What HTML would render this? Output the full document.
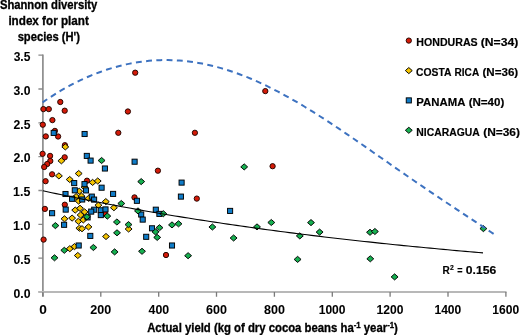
<!DOCTYPE html>
<html><head><meta charset="utf-8"><style>
html,body{margin:0;padding:0;background:#fff;}
body{width:520px;height:335px;overflow:hidden;}
svg{display:block;will-change:transform;}
</style></head><body>
<svg width="520" height="335" viewBox="0 0 520 335">
<rect width="520" height="335" fill="#fff"/>
<path d="M38.4 291.9H42.9M38.4 258.1H42.9M38.4 224.3H42.9M38.4 190.5H42.9M38.4 156.6H42.9M38.4 122.8H42.9M38.4 89.0H42.9M38.4 55.2H42.9" stroke="#8a8a8a" stroke-width="1.3" fill="none"/>
<path d="M42.9 54.6V296.4" stroke="#868686" stroke-width="1.6" fill="none"/>
<path d="M38.4 292.0H506.5" stroke="#b8b8b8" stroke-width="2.0" fill="none"/>
<path d="M42.9 291.9V296.7M100.8 291.9V296.7M158.7 291.9V296.7M216.5 291.9V296.7M274.4 291.9V296.7M332.3 291.9V296.7M390.1 291.9V296.7M448.0 291.9V296.7M505.9 291.9V296.7" stroke="#7a7a7a" stroke-width="1.3" fill="none"/>
<circle cx="135.2" cy="72.7" r="2.65" fill="#d41a08" stroke="#220500" stroke-width="0.95"/>
<circle cx="265.3" cy="91.1" r="2.65" fill="#d41a08" stroke="#220500" stroke-width="0.95"/>
<circle cx="60.3" cy="102.0" r="2.65" fill="#d41a08" stroke="#220500" stroke-width="0.95"/>
<circle cx="43.4" cy="109.1" r="2.65" fill="#d41a08" stroke="#220500" stroke-width="0.95"/>
<circle cx="48.8" cy="109.1" r="2.65" fill="#d41a08" stroke="#220500" stroke-width="0.95"/>
<circle cx="64.7" cy="110.7" r="2.65" fill="#d41a08" stroke="#220500" stroke-width="0.95"/>
<circle cx="127.9" cy="111.5" r="2.65" fill="#d41a08" stroke="#220500" stroke-width="0.95"/>
<circle cx="52.4" cy="120.1" r="2.65" fill="#d41a08" stroke="#220500" stroke-width="0.95"/>
<circle cx="42.8" cy="124.7" r="2.65" fill="#d41a08" stroke="#220500" stroke-width="0.95"/>
<circle cx="54.9" cy="130.9" r="2.65" fill="#d41a08" stroke="#220500" stroke-width="0.95"/>
<circle cx="45.8" cy="136.4" r="2.65" fill="#d41a08" stroke="#220500" stroke-width="0.95"/>
<circle cx="58.1" cy="136.5" r="2.65" fill="#d41a08" stroke="#220500" stroke-width="0.95"/>
<circle cx="118.3" cy="132.8" r="2.65" fill="#d41a08" stroke="#220500" stroke-width="0.95"/>
<circle cx="194.9" cy="132.8" r="2.65" fill="#d41a08" stroke="#220500" stroke-width="0.95"/>
<circle cx="64.9" cy="145.2" r="2.65" fill="#d41a08" stroke="#220500" stroke-width="0.95"/>
<circle cx="42.6" cy="153.8" r="2.65" fill="#d41a08" stroke="#220500" stroke-width="0.95"/>
<circle cx="50.1" cy="155.9" r="2.65" fill="#d41a08" stroke="#220500" stroke-width="0.95"/>
<circle cx="64.7" cy="157.3" r="2.65" fill="#d41a08" stroke="#220500" stroke-width="0.95"/>
<circle cx="50.3" cy="161.0" r="2.65" fill="#d41a08" stroke="#220500" stroke-width="0.95"/>
<circle cx="47.2" cy="164.0" r="2.65" fill="#d41a08" stroke="#220500" stroke-width="0.95"/>
<circle cx="44.2" cy="167.0" r="2.65" fill="#d41a08" stroke="#220500" stroke-width="0.95"/>
<circle cx="52.1" cy="174.3" r="2.65" fill="#d41a08" stroke="#220500" stroke-width="0.95"/>
<circle cx="45.6" cy="181.2" r="2.65" fill="#d41a08" stroke="#220500" stroke-width="0.95"/>
<circle cx="87.0" cy="180.7" r="2.65" fill="#d41a08" stroke="#220500" stroke-width="0.95"/>
<circle cx="157.9" cy="170.7" r="2.65" fill="#d41a08" stroke="#220500" stroke-width="0.95"/>
<circle cx="272.6" cy="166.2" r="2.65" fill="#d41a08" stroke="#220500" stroke-width="0.95"/>
<circle cx="196.8" cy="198.6" r="2.65" fill="#d41a08" stroke="#220500" stroke-width="0.95"/>
<circle cx="134.5" cy="197.4" r="2.65" fill="#d41a08" stroke="#220500" stroke-width="0.95"/>
<circle cx="104.9" cy="213.7" r="2.65" fill="#d41a08" stroke="#220500" stroke-width="0.95"/>
<circle cx="64.8" cy="204.7" r="2.65" fill="#d41a08" stroke="#220500" stroke-width="0.95"/>
<circle cx="43.6" cy="239.6" r="2.65" fill="#d41a08" stroke="#220500" stroke-width="0.95"/>
<circle cx="44.9" cy="208.9" r="2.65" fill="#d41a08" stroke="#220500" stroke-width="0.95"/>
<circle cx="166.0" cy="255.0" r="2.65" fill="#d41a08" stroke="#220500" stroke-width="0.95"/>
<path d="M65.30 143.85L68.75 146.90L65.30 149.95L61.85 146.90Z" fill="#f5c400" stroke="#000" stroke-width="0.95"/>
<path d="M61.40 157.75L64.85 160.80L61.40 163.85L57.95 160.80Z" fill="#f5c400" stroke="#000" stroke-width="0.95"/>
<path d="M78.70 170.45L82.15 173.50L78.70 176.55L75.25 173.50Z" fill="#f5c400" stroke="#000" stroke-width="0.95"/>
<path d="M58.90 172.85L62.35 175.90L58.90 178.95L55.45 175.90Z" fill="#f5c400" stroke="#000" stroke-width="0.95"/>
<path d="M69.70 176.45L73.15 179.50L69.70 182.55L66.25 179.50Z" fill="#f5c400" stroke="#000" stroke-width="0.95"/>
<path d="M92.60 179.35L96.05 182.40L92.60 185.45L89.15 182.40Z" fill="#f5c400" stroke="#000" stroke-width="0.95"/>
<path d="M97.70 177.95L101.15 181.00L97.70 184.05L94.25 181.00Z" fill="#f5c400" stroke="#000" stroke-width="0.95"/>
<path d="M84.60 184.15L88.05 187.20L84.60 190.25L81.15 187.20Z" fill="#f5c400" stroke="#000" stroke-width="0.95"/>
<path d="M79.20 188.15L82.65 191.20L79.20 194.25L75.75 191.20Z" fill="#f5c400" stroke="#000" stroke-width="0.95"/>
<path d="M76.10 193.55L79.55 196.60L76.10 199.65L72.65 196.60Z" fill="#f5c400" stroke="#000" stroke-width="0.95"/>
<path d="M81.50 193.05L84.95 196.10L81.50 199.15L78.05 196.10Z" fill="#f5c400" stroke="#000" stroke-width="0.95"/>
<path d="M78.60 198.05L82.05 201.10L78.60 204.15L75.15 201.10Z" fill="#f5c400" stroke="#000" stroke-width="0.95"/>
<path d="M88.60 195.35L92.05 198.40L88.60 201.45L85.15 198.40Z" fill="#f5c400" stroke="#000" stroke-width="0.95"/>
<path d="M98.40 202.15L101.85 205.20L98.40 208.25L94.95 205.20Z" fill="#f5c400" stroke="#000" stroke-width="0.95"/>
<path d="M105.80 198.55L109.25 201.60L105.80 204.65L102.35 201.60Z" fill="#f5c400" stroke="#000" stroke-width="0.95"/>
<path d="M113.90 204.65L117.35 207.70L113.90 210.75L110.45 207.70Z" fill="#f5c400" stroke="#000" stroke-width="0.95"/>
<path d="M75.20 207.05L78.65 210.10L75.20 213.15L71.75 210.10Z" fill="#f5c400" stroke="#000" stroke-width="0.95"/>
<path d="M80.00 205.25L83.45 208.30L80.00 211.35L76.55 208.30Z" fill="#f5c400" stroke="#000" stroke-width="0.95"/>
<path d="M84.60 208.85L88.05 211.90L84.60 214.95L81.15 211.90Z" fill="#f5c400" stroke="#000" stroke-width="0.95"/>
<path d="M80.60 211.95L84.05 215.00L80.60 218.05L77.15 215.00Z" fill="#f5c400" stroke="#000" stroke-width="0.95"/>
<path d="M64.50 215.75L67.95 218.80L64.50 221.85L61.05 218.80Z" fill="#f5c400" stroke="#000" stroke-width="0.95"/>
<path d="M72.10 215.05L75.55 218.10L72.10 221.15L68.65 218.10Z" fill="#f5c400" stroke="#000" stroke-width="0.95"/>
<path d="M78.40 218.25L81.85 221.30L78.40 224.35L74.95 221.30Z" fill="#f5c400" stroke="#000" stroke-width="0.95"/>
<path d="M83.30 216.85L86.75 219.90L83.30 222.95L79.85 219.90Z" fill="#f5c400" stroke="#000" stroke-width="0.95"/>
<path d="M79.40 225.15L82.85 228.20L79.40 231.25L75.95 228.20Z" fill="#f5c400" stroke="#000" stroke-width="0.95"/>
<path d="M82.00 225.65L85.45 228.70L82.00 231.75L78.55 228.70Z" fill="#f5c400" stroke="#000" stroke-width="0.95"/>
<path d="M88.50 223.85L91.95 226.90L88.50 229.95L85.05 226.90Z" fill="#f5c400" stroke="#000" stroke-width="0.95"/>
<path d="M106.00 233.45L109.45 236.50L106.00 239.55L102.55 236.50Z" fill="#f5c400" stroke="#000" stroke-width="0.95"/>
<path d="M128.60 225.95L132.05 229.00L128.60 232.05L125.15 229.00Z" fill="#f5c400" stroke="#000" stroke-width="0.95"/>
<path d="M69.80 245.65L73.25 248.70L69.80 251.75L66.35 248.70Z" fill="#f5c400" stroke="#000" stroke-width="0.95"/>
<path d="M74.50 243.55L77.95 246.60L74.50 249.65L71.05 246.60Z" fill="#f5c400" stroke="#000" stroke-width="0.95"/>
<path d="M77.80 252.45L81.25 255.50L77.80 258.55L74.35 255.50Z" fill="#f5c400" stroke="#000" stroke-width="0.95"/>
<rect x="51.15" y="130.35" width="5.1" height="5.1" fill="#0f7cc8" stroke="#000" stroke-width="0.95"/>
<rect x="82.05" y="131.45" width="5.1" height="5.1" fill="#0f7cc8" stroke="#000" stroke-width="0.95"/>
<rect x="84.25" y="153.35" width="5.1" height="5.1" fill="#0f7cc8" stroke="#000" stroke-width="0.95"/>
<rect x="88.05" y="158.05" width="5.1" height="5.1" fill="#0f7cc8" stroke="#000" stroke-width="0.95"/>
<rect x="132.05" y="159.15" width="5.1" height="5.1" fill="#0f7cc8" stroke="#000" stroke-width="0.95"/>
<rect x="102.35" y="165.95" width="5.1" height="5.1" fill="#0f7cc8" stroke="#000" stroke-width="0.95"/>
<rect x="71.65" y="180.55" width="5.1" height="5.1" fill="#0f7cc8" stroke="#000" stroke-width="0.95"/>
<rect x="81.95" y="181.55" width="5.1" height="5.1" fill="#0f7cc8" stroke="#000" stroke-width="0.95"/>
<rect x="72.25" y="187.75" width="5.1" height="5.1" fill="#0f7cc8" stroke="#000" stroke-width="0.95"/>
<rect x="83.45" y="187.85" width="5.1" height="5.1" fill="#0f7cc8" stroke="#000" stroke-width="0.95"/>
<rect x="62.95" y="191.45" width="5.1" height="5.1" fill="#0f7cc8" stroke="#000" stroke-width="0.95"/>
<rect x="69.55" y="196.25" width="5.1" height="5.1" fill="#0f7cc8" stroke="#000" stroke-width="0.95"/>
<rect x="79.65" y="196.95" width="5.1" height="5.1" fill="#0f7cc8" stroke="#000" stroke-width="0.95"/>
<rect x="89.25" y="194.05" width="5.1" height="5.1" fill="#0f7cc8" stroke="#000" stroke-width="0.95"/>
<rect x="91.55" y="197.05" width="5.1" height="5.1" fill="#0f7cc8" stroke="#000" stroke-width="0.95"/>
<rect x="99.05" y="185.15" width="5.1" height="5.1" fill="#0f7cc8" stroke="#000" stroke-width="0.95"/>
<rect x="110.55" y="191.35" width="5.1" height="5.1" fill="#0f7cc8" stroke="#000" stroke-width="0.95"/>
<rect x="134.35" y="198.25" width="5.1" height="5.1" fill="#0f7cc8" stroke="#000" stroke-width="0.95"/>
<rect x="91.65" y="207.15" width="5.1" height="5.1" fill="#0f7cc8" stroke="#000" stroke-width="0.95"/>
<rect x="88.65" y="209.05" width="5.1" height="5.1" fill="#0f7cc8" stroke="#000" stroke-width="0.95"/>
<rect x="98.25" y="207.75" width="5.1" height="5.1" fill="#0f7cc8" stroke="#000" stroke-width="0.95"/>
<rect x="102.95" y="206.85" width="5.1" height="5.1" fill="#0f7cc8" stroke="#000" stroke-width="0.95"/>
<rect x="98.25" y="212.55" width="5.1" height="5.1" fill="#0f7cc8" stroke="#000" stroke-width="0.95"/>
<rect x="85.05" y="214.85" width="5.1" height="5.1" fill="#0f7cc8" stroke="#000" stroke-width="0.95"/>
<rect x="63.15" y="207.05" width="5.1" height="5.1" fill="#0f7cc8" stroke="#000" stroke-width="0.95"/>
<rect x="61.55" y="222.25" width="5.1" height="5.1" fill="#0f7cc8" stroke="#000" stroke-width="0.95"/>
<rect x="87.75" y="233.35" width="5.1" height="5.1" fill="#0f7cc8" stroke="#000" stroke-width="0.95"/>
<rect x="76.15" y="242.95" width="5.1" height="5.1" fill="#0f7cc8" stroke="#000" stroke-width="0.95"/>
<rect x="138.65" y="211.95" width="5.1" height="5.1" fill="#0f7cc8" stroke="#000" stroke-width="0.95"/>
<rect x="140.15" y="217.05" width="5.1" height="5.1" fill="#0f7cc8" stroke="#000" stroke-width="0.95"/>
<rect x="143.65" y="234.25" width="5.1" height="5.1" fill="#0f7cc8" stroke="#000" stroke-width="0.95"/>
<rect x="153.25" y="207.15" width="5.1" height="5.1" fill="#0f7cc8" stroke="#000" stroke-width="0.95"/>
<rect x="156.85" y="211.35" width="5.1" height="5.1" fill="#0f7cc8" stroke="#000" stroke-width="0.95"/>
<rect x="149.45" y="225.75" width="5.1" height="5.1" fill="#0f7cc8" stroke="#000" stroke-width="0.95"/>
<rect x="169.45" y="242.95" width="5.1" height="5.1" fill="#0f7cc8" stroke="#000" stroke-width="0.95"/>
<rect x="179.05" y="180.05" width="5.1" height="5.1" fill="#0f7cc8" stroke="#000" stroke-width="0.95"/>
<rect x="178.35" y="194.05" width="5.1" height="5.1" fill="#0f7cc8" stroke="#000" stroke-width="0.95"/>
<rect x="227.55" y="208.35" width="5.1" height="5.1" fill="#0f7cc8" stroke="#000" stroke-width="0.95"/>
<rect x="49.55" y="210.65" width="5.1" height="5.1" fill="#0f7cc8" stroke="#000" stroke-width="0.95"/>
<path d="M101.60 157.45L105.05 160.50L101.60 163.55L98.15 160.50Z" fill="#16b050" stroke="#000" stroke-width="0.95"/>
<path d="M141.20 178.55L144.65 181.60L141.20 184.65L137.75 181.60Z" fill="#16b050" stroke="#000" stroke-width="0.95"/>
<path d="M121.30 200.45L124.75 203.50L121.30 206.55L117.85 203.50Z" fill="#16b050" stroke="#000" stroke-width="0.95"/>
<path d="M107.30 213.05L110.75 216.10L107.30 219.15L103.85 216.10Z" fill="#16b050" stroke="#000" stroke-width="0.95"/>
<path d="M116.90 218.95L120.35 222.00L116.90 225.05L113.45 222.00Z" fill="#16b050" stroke="#000" stroke-width="0.95"/>
<path d="M128.50 221.55L131.95 224.60L128.50 227.65L125.05 224.60Z" fill="#16b050" stroke="#000" stroke-width="0.95"/>
<path d="M138.00 207.85L141.45 210.90L138.00 213.95L134.55 210.90Z" fill="#16b050" stroke="#000" stroke-width="0.95"/>
<path d="M86.90 213.75L90.35 216.80L86.90 219.85L83.45 216.80Z" fill="#16b050" stroke="#000" stroke-width="0.95"/>
<path d="M55.40 222.55L58.85 225.60L55.40 228.65L51.95 225.60Z" fill="#16b050" stroke="#000" stroke-width="0.95"/>
<path d="M64.30 247.25L67.75 250.30L64.30 253.35L60.85 250.30Z" fill="#16b050" stroke="#000" stroke-width="0.95"/>
<path d="M54.50 254.75L57.95 257.80L54.50 260.85L51.05 257.80Z" fill="#16b050" stroke="#000" stroke-width="0.95"/>
<path d="M93.40 244.45L96.85 247.50L93.40 250.55L89.95 247.50Z" fill="#16b050" stroke="#000" stroke-width="0.95"/>
<path d="M117.00 229.75L120.45 232.80L117.00 235.85L113.55 232.80Z" fill="#16b050" stroke="#000" stroke-width="0.95"/>
<path d="M114.60 248.85L118.05 251.90L114.60 254.95L111.15 251.90Z" fill="#16b050" stroke="#000" stroke-width="0.95"/>
<path d="M142.00 248.25L145.45 251.30L142.00 254.35L138.55 251.30Z" fill="#16b050" stroke="#000" stroke-width="0.95"/>
<path d="M157.20 234.35L160.65 237.40L157.20 240.45L153.75 237.40Z" fill="#16b050" stroke="#000" stroke-width="0.95"/>
<path d="M163.30 210.65L166.75 213.70L163.30 216.75L159.85 213.70Z" fill="#16b050" stroke="#000" stroke-width="0.95"/>
<path d="M172.00 221.85L175.45 224.90L172.00 227.95L168.55 224.90Z" fill="#16b050" stroke="#000" stroke-width="0.95"/>
<path d="M178.50 220.75L181.95 223.80L178.50 226.85L175.05 223.80Z" fill="#16b050" stroke="#000" stroke-width="0.95"/>
<path d="M159.50 224.65L162.95 227.70L159.50 230.75L156.05 227.70Z" fill="#16b050" stroke="#000" stroke-width="0.95"/>
<path d="M155.50 228.85L158.95 231.90L155.50 234.95L152.05 231.90Z" fill="#16b050" stroke="#000" stroke-width="0.95"/>
<path d="M188.10 252.65L191.55 255.70L188.10 258.75L184.65 255.70Z" fill="#16b050" stroke="#000" stroke-width="0.95"/>
<path d="M244.20 163.85L247.65 166.90L244.20 169.95L240.75 166.90Z" fill="#16b050" stroke="#000" stroke-width="0.95"/>
<path d="M212.40 223.95L215.85 227.00L212.40 230.05L208.95 227.00Z" fill="#16b050" stroke="#000" stroke-width="0.95"/>
<path d="M233.60 234.95L237.05 238.00L233.60 241.05L230.15 238.00Z" fill="#16b050" stroke="#000" stroke-width="0.95"/>
<path d="M257.00 223.85L260.45 226.90L257.00 229.95L253.55 226.90Z" fill="#16b050" stroke="#000" stroke-width="0.95"/>
<path d="M271.30 219.45L274.75 222.50L271.30 225.55L267.85 222.50Z" fill="#16b050" stroke="#000" stroke-width="0.95"/>
<path d="M311.00 219.55L314.45 222.60L311.00 225.65L307.55 222.60Z" fill="#16b050" stroke="#000" stroke-width="0.95"/>
<path d="M299.80 232.85L303.25 235.90L299.80 238.95L296.35 235.90Z" fill="#16b050" stroke="#000" stroke-width="0.95"/>
<path d="M319.60 229.05L323.05 232.10L319.60 235.15L316.15 232.10Z" fill="#16b050" stroke="#000" stroke-width="0.95"/>
<path d="M297.60 256.35L301.05 259.40L297.60 262.45L294.15 259.40Z" fill="#16b050" stroke="#000" stroke-width="0.95"/>
<path d="M370.00 229.25L373.45 232.30L370.00 235.35L366.55 232.30Z" fill="#16b050" stroke="#000" stroke-width="0.95"/>
<path d="M374.90 228.45L378.35 231.50L374.90 234.55L371.45 231.50Z" fill="#16b050" stroke="#000" stroke-width="0.95"/>
<path d="M370.30 255.75L373.75 258.80L370.30 261.85L366.85 258.80Z" fill="#16b050" stroke="#000" stroke-width="0.95"/>
<path d="M394.60 273.85L398.05 276.90L394.60 279.95L391.15 276.90Z" fill="#16b050" stroke="#000" stroke-width="0.95"/>
<path d="M483.40 225.55L486.85 228.60L483.40 231.65L479.95 228.60Z" fill="#16b050" stroke="#000" stroke-width="0.95"/>
<polyline points="42.90,190.80 47.30,191.75 51.70,192.70 56.10,193.64 60.50,194.57 64.91,195.50 69.31,196.41 73.71,197.31 78.11,198.21 82.51,199.10 86.91,199.98 91.31,200.85 95.71,201.71 100.11,202.57 104.52,203.41 108.92,204.25 113.32,205.08 117.72,205.90 122.12,206.72 126.52,207.53 130.92,208.33 135.32,209.12 139.72,209.90 144.13,210.68 148.53,211.45 152.93,212.21 157.33,212.97 161.73,213.71 166.13,214.45 170.53,215.19 174.93,215.92 179.33,216.64 183.74,217.35 188.14,218.05 192.54,218.75 196.94,219.45 201.34,220.13 205.74,220.81 210.14,221.49 214.54,222.16 218.94,222.82 223.35,223.47 227.75,224.12 232.15,224.76 236.55,225.40 240.95,226.03 245.35,226.65 249.75,227.27 254.15,227.88 258.55,228.49 262.96,229.09 267.36,229.69 271.76,230.27 276.16,230.86 280.56,231.44 284.96,232.01 289.36,232.58 293.76,233.14 298.16,233.70 302.57,234.25 306.97,234.79 311.37,235.34 315.77,235.87 320.17,236.40 324.57,236.93 328.97,237.45 333.37,237.96 337.77,238.48 342.18,238.98 346.58,239.48 350.98,239.98 355.38,240.47 359.78,240.96 364.18,241.44 368.58,241.92 372.98,242.39 377.38,242.86 381.79,243.33 386.19,243.79 390.59,244.24 394.99,244.70 399.39,245.14 403.79,245.59 408.19,246.02 412.59,246.46 416.99,246.89 421.39,247.32 425.80,247.74 430.20,248.16 434.60,248.57 439.00,248.98 443.40,249.39 447.80,249.79 452.20,250.19 456.60,250.59 461.00,250.98 465.41,251.37 469.81,251.75 474.21,252.13 478.61,252.51 483.01,252.88" stroke="#000" stroke-width="1.1" fill="none"/>
<polyline points="42.60,102.36 46.40,99.76 50.20,97.24 53.99,94.81 57.79,92.46 61.59,90.21 65.39,88.03 69.19,85.94 72.99,83.93 76.78,82.01 80.58,80.17 84.38,78.41 88.18,76.73 91.98,75.14 95.78,73.62 99.57,72.19 103.37,70.83 107.17,69.56 110.97,68.37 114.77,67.26 118.57,66.23 122.36,65.27 126.16,64.40 129.96,63.61 133.76,62.90 137.56,62.27 141.36,61.72 145.15,61.25 148.95,60.86 152.75,60.54 156.55,60.31 160.35,60.16 164.15,60.08 167.94,60.09 171.74,60.17 175.54,60.33 179.34,60.57 183.14,60.88 186.94,61.27 190.73,61.74 194.53,62.28 198.33,62.90 202.13,63.60 205.93,64.36 209.73,65.20 213.52,66.12 217.32,67.10 221.12,68.16 224.92,69.28 228.72,70.47 232.52,71.73 236.31,73.06 240.11,74.45 243.91,75.91 247.71,77.43 251.51,79.01 255.31,80.65 259.10,82.35 262.90,84.11 266.70,85.92 270.50,87.79 274.30,89.71 278.10,91.68 281.89,93.70 285.69,95.77 289.49,97.89 293.29,100.04 297.09,102.24 300.89,104.48 304.68,106.76 308.48,109.08 312.28,111.43 316.08,113.81 319.88,116.23 323.68,118.67 327.47,121.14 331.27,123.64 335.07,126.16 338.87,128.70 342.67,131.26 346.47,133.83 350.26,136.42 354.06,139.03 357.86,141.65 361.66,144.27 365.46,146.91 369.26,149.55 373.05,152.20 376.85,154.84 380.65,157.50 384.45,160.15 388.25,162.80 392.05,165.44 395.84,168.09 399.64,170.73 403.44,173.36 407.24,175.98 411.04,178.60 414.84,181.21 418.63,183.81 422.43,186.40 426.23,188.98 430.03,191.55 433.83,194.12 437.63,196.67 441.42,199.21 445.22,201.75 449.02,204.27 452.82,206.79 456.62,209.31 460.42,211.82 464.21,214.33 468.01,216.84 471.81,219.34 475.61,221.86 479.41,224.38 483.21,226.90 487.00,229.45 490.80,232.00 494.60,234.58" stroke="#3d72c0" stroke-width="2.0" fill="none" stroke-dasharray="5.9 4.363" stroke-dashoffset="0.31"/>
<text x="-0.12" y="9.00" font-size="12" stroke-width="0.32" textLength="97.43" lengthAdjust="spacingAndGlyphs" font-family="Liberation Sans, sans-serif" font-weight="bold" fill="#000" stroke="#000">Shannon diversity</text>
<text x="8.39" y="24.50" font-size="12" stroke-width="0.32" textLength="80.43" lengthAdjust="spacingAndGlyphs" font-family="Liberation Sans, sans-serif" font-weight="bold" fill="#000" stroke="#000">index for plant</text>
<text x="17.67" y="40.60" font-size="12" stroke-width="0.32" textLength="62.31" lengthAdjust="spacingAndGlyphs" font-family="Liberation Sans, sans-serif" font-weight="bold" fill="#000" stroke="#000">species (H')</text>
<text x="13.51" y="297.70" font-size="11.9" stroke-width="0.05" textLength="17.00" lengthAdjust="spacingAndGlyphs" font-family="Liberation Sans, sans-serif" font-weight="bold" fill="#000" stroke="#000">0.0</text>
<text x="13.52" y="263.89" font-size="11.9" stroke-width="0.05" textLength="16.87" lengthAdjust="spacingAndGlyphs" font-family="Liberation Sans, sans-serif" font-weight="bold" fill="#000" stroke="#000">0.5</text>
<text x="13.11" y="230.07" font-size="11.9" stroke-width="0.05" textLength="17.42" lengthAdjust="spacingAndGlyphs" font-family="Liberation Sans, sans-serif" font-weight="bold" fill="#000" stroke="#000">1.0</text>
<text x="13.12" y="196.26" font-size="11.9" stroke-width="0.05" textLength="17.28" lengthAdjust="spacingAndGlyphs" font-family="Liberation Sans, sans-serif" font-weight="bold" fill="#000" stroke="#000">1.5</text>
<text x="13.51" y="162.44" font-size="11.9" stroke-width="0.05" textLength="17.00" lengthAdjust="spacingAndGlyphs" font-family="Liberation Sans, sans-serif" font-weight="bold" fill="#000" stroke="#000">2.0</text>
<text x="13.52" y="128.63" font-size="11.9" stroke-width="0.05" textLength="16.87" lengthAdjust="spacingAndGlyphs" font-family="Liberation Sans, sans-serif" font-weight="bold" fill="#000" stroke="#000">2.5</text>
<text x="13.64" y="94.81" font-size="11.9" stroke-width="0.05" textLength="16.87" lengthAdjust="spacingAndGlyphs" font-family="Liberation Sans, sans-serif" font-weight="bold" fill="#000" stroke="#000">3.0</text>
<text x="13.65" y="61.00" font-size="11.9" stroke-width="0.05" textLength="16.74" lengthAdjust="spacingAndGlyphs" font-family="Liberation Sans, sans-serif" font-weight="bold" fill="#000" stroke="#000">3.5</text>
<text x="39.17" y="314.10" font-size="11.9" stroke-width="0.05" textLength="7.60" lengthAdjust="spacingAndGlyphs" font-family="Liberation Sans, sans-serif" font-weight="bold" fill="#000" stroke="#000">0</text>
<text x="90.38" y="314.10" font-size="11.9" stroke-width="0.05" textLength="20.89" lengthAdjust="spacingAndGlyphs" font-family="Liberation Sans, sans-serif" font-weight="bold" fill="#000" stroke="#000">200</text>
<text x="148.52" y="314.10" font-size="11.9" stroke-width="0.05" textLength="20.62" lengthAdjust="spacingAndGlyphs" font-family="Liberation Sans, sans-serif" font-weight="bold" fill="#000" stroke="#000">400</text>
<text x="206.13" y="314.10" font-size="11.9" stroke-width="0.05" textLength="20.89" lengthAdjust="spacingAndGlyphs" font-family="Liberation Sans, sans-serif" font-weight="bold" fill="#000" stroke="#000">600</text>
<text x="264.01" y="314.10" font-size="11.9" stroke-width="0.05" textLength="20.89" lengthAdjust="spacingAndGlyphs" font-family="Liberation Sans, sans-serif" font-weight="bold" fill="#000" stroke="#000">800</text>
<text x="318.71" y="314.10" font-size="11.9" stroke-width="0.05" textLength="26.82" lengthAdjust="spacingAndGlyphs" font-family="Liberation Sans, sans-serif" font-weight="bold" fill="#000" stroke="#000">1000</text>
<text x="376.59" y="314.10" font-size="11.9" stroke-width="0.05" textLength="26.82" lengthAdjust="spacingAndGlyphs" font-family="Liberation Sans, sans-serif" font-weight="bold" fill="#000" stroke="#000">1200</text>
<text x="434.46" y="314.10" font-size="11.9" stroke-width="0.05" textLength="26.82" lengthAdjust="spacingAndGlyphs" font-family="Liberation Sans, sans-serif" font-weight="bold" fill="#000" stroke="#000">1400</text>
<text x="492.34" y="314.10" font-size="11.9" stroke-width="0.05" textLength="26.82" lengthAdjust="spacingAndGlyphs" font-family="Liberation Sans, sans-serif" font-weight="bold" fill="#000" stroke="#000">1600</text>
<text x="147.18" y="332.00" font-size="12" stroke-width="0.32" textLength="250.72" lengthAdjust="spacingAndGlyphs" font-family="Liberation Sans, sans-serif" font-weight="bold" fill="#000" stroke="#000">Actual yield (kg of dry cocoa beans ha<tspan font-size="8.3" dy="-3.8">-1</tspan><tspan dy="3.8"> year</tspan><tspan font-size="8.3" dy="-3.8">-1</tspan><tspan dy="3.8">)</tspan></text>
<text x="442.42" y="273.50" font-size="10.8" stroke-width="0.18" textLength="7.25" lengthAdjust="spacingAndGlyphs" font-family="Liberation Sans, sans-serif" font-weight="bold" fill="#000" stroke="#000">R</text>
<text x="449.98" y="269.60" font-size="7.0" stroke-width="0.2" textLength="3.77" lengthAdjust="spacingAndGlyphs" font-family="Liberation Sans, sans-serif" font-weight="bold" fill="#000" stroke="#000">2</text>
<text x="457.19" y="273.50" font-size="10.8" stroke-width="0.18" textLength="5.27" lengthAdjust="spacingAndGlyphs" font-family="Liberation Sans, sans-serif" font-weight="bold" fill="#000" stroke="#000">=</text>
<text x="465.88" y="273.50" font-size="10.8" stroke-width="0.18" textLength="30.34" lengthAdjust="spacingAndGlyphs" font-family="Liberation Sans, sans-serif" font-weight="bold" fill="#000" stroke="#000">0.156</text>
<text x="415.97" y="76.10" font-size="11.6" stroke-width="0.18" textLength="35.43" lengthAdjust="spacingAndGlyphs" font-family="Liberation Sans, sans-serif" font-weight="bold" fill="#000" stroke="#000">COSTA</text>
<text x="454.56" y="76.10" font-size="11.6" stroke-width="0.18" textLength="24.63" lengthAdjust="spacingAndGlyphs" font-family="Liberation Sans, sans-serif" font-weight="bold" fill="#000" stroke="#000">RICA</text>
<text x="416.33" y="46.10" font-size="11.6" stroke-width="0.18" textLength="61.32" lengthAdjust="spacingAndGlyphs" font-family="Liberation Sans, sans-serif" font-weight="bold" fill="#000" stroke="#000">HONDURAS</text>
<text x="480.78" y="46.10" font-size="11.6" stroke-width="0.18" textLength="37.46" lengthAdjust="spacingAndGlyphs" font-family="Liberation Sans, sans-serif" font-weight="bold" fill="#000" stroke="#000">(N=34)</text>
<text x="482.50" y="76.10" font-size="11.6" stroke-width="0.18" textLength="35.71" lengthAdjust="spacingAndGlyphs" font-family="Liberation Sans, sans-serif" font-weight="bold" fill="#000" stroke="#000">(N=36)</text>
<text x="416.29" y="106.10" font-size="11.6" stroke-width="0.18" textLength="49.07" lengthAdjust="spacingAndGlyphs" font-family="Liberation Sans, sans-serif" font-weight="bold" fill="#000" stroke="#000">PANAMA</text>
<text x="468.70" y="106.10" font-size="11.6" stroke-width="0.18" textLength="35.61" lengthAdjust="spacingAndGlyphs" font-family="Liberation Sans, sans-serif" font-weight="bold" fill="#000" stroke="#000">(N=40)</text>
<text x="416.34" y="136.10" font-size="11.6" stroke-width="0.18" textLength="63.47" lengthAdjust="spacingAndGlyphs" font-family="Liberation Sans, sans-serif" font-weight="bold" fill="#000" stroke="#000">NICARAGUA</text>
<text x="483.19" y="136.10" font-size="11.6" stroke-width="0.18" textLength="36.74" lengthAdjust="spacingAndGlyphs" font-family="Liberation Sans, sans-serif" font-weight="bold" fill="#000" stroke="#000">(N=36)</text>
<circle cx="408.8" cy="40.6" r="2.65" fill="#d41a08" stroke="#220500" stroke-width="0.95"/>
<path d="M408.80 67.55L412.25 70.60L408.80 73.65L405.35 70.60Z" fill="#f5c400" stroke="#000" stroke-width="0.95"/>
<rect x="406.25" y="97.85" width="5.1" height="5.1" fill="#0f7cc8" stroke="#000" stroke-width="0.95"/>
<path d="M408.80 127.25L412.25 130.30L408.80 133.35L405.35 130.30Z" fill="#16b050" stroke="#000" stroke-width="0.95"/>
</svg>
</body></html>
